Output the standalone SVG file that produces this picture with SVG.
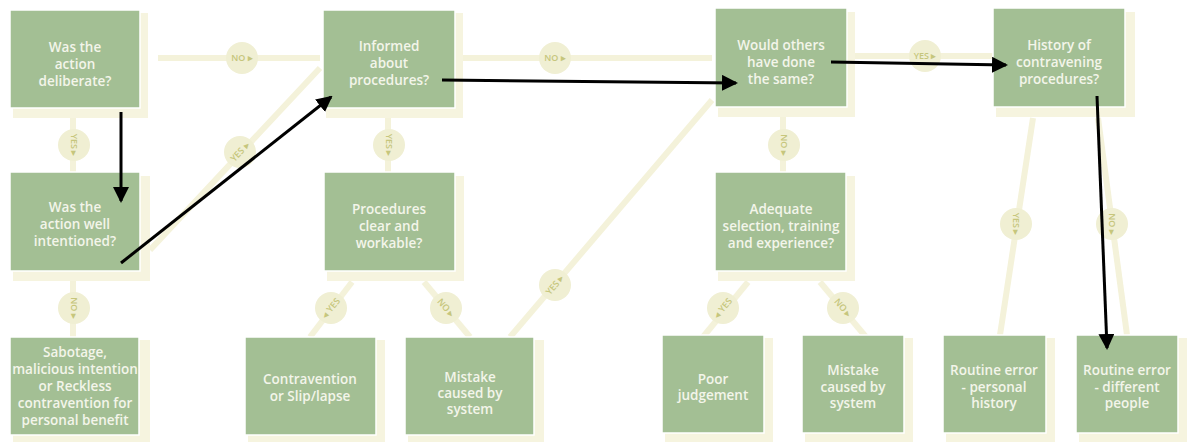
<svg xmlns="http://www.w3.org/2000/svg" width="1194" height="442" viewBox="0 0 1194 442">
<defs>
<style>
.shadow{fill:#f6f4df}
.box{fill:#a3bf94;stroke:#ffffff;stroke-width:1.5}
.bt{font-family:"Open Sans","Noto Sans",sans-serif;font-size:13.5px;font-weight:600;fill:#f3f5ea;text-anchor:middle}
.conn{stroke:#f4f2da;stroke-width:6;fill:none;stroke-linecap:butt}
.pill{fill:#f0efd3}
.pt{font-family:"Open Sans","Noto Sans",sans-serif;font-size:9px;font-weight:600;fill:#c6c67c;text-anchor:middle}
.arrow{stroke:#000;stroke-width:3;fill:none}
</style>
<marker id="ah" viewBox="0 0 16 16" refX="14" refY="8" markerWidth="16" markerHeight="16" markerUnits="userSpaceOnUse" orient="auto">
<path d="M0,0 L16,8 L0,16 z" fill="#000"/>
</marker>
</defs>
<rect width="1194" height="442" fill="#ffffff"/>

<g id="connectors">
<line class="conn" x1="158" y1="58" x2="320" y2="58"/>
<line class="conn" x1="463" y1="58" x2="712" y2="58"/>
<line class="conn" x1="855" y1="56" x2="994" y2="56"/>
<line class="conn" x1="73" y1="118" x2="73" y2="172"/>
<line class="conn" x1="150" y1="250" x2="320" y2="68"/>
<line class="conn" x1="73" y1="281" x2="73" y2="337"/>
<line class="conn" x1="388" y1="118" x2="388" y2="172"/>
<line class="conn" x1="352" y1="282" x2="310" y2="337"/>
<line class="conn" x1="424" y1="282" x2="470" y2="337"/>
<line class="conn" x1="510" y1="337" x2="712" y2="100"/>
<line class="conn" x1="783" y1="117" x2="783" y2="172"/>
<line class="conn" x1="748" y1="282" x2="703" y2="337"/>
<line class="conn" x1="820" y1="282" x2="866" y2="337"/>
<line class="conn" x1="1033" y1="118" x2="1000" y2="335"/>
<line class="conn" x1="1098" y1="118" x2="1127" y2="335"/>

<circle class="pill" cx="242" cy="58" r="16"/>
<text class="pt" x="242" y="61">NO ▸</text>
<circle class="pill" cx="555" cy="58" r="16"/>
<text class="pt" x="555" y="61">NO ▸</text>
<circle class="pill" cx="925" cy="56" r="16"/>
<text class="pt" x="925" y="59">YES ▸</text>
<circle class="pill" cx="74" cy="145" r="16"/>
<text class="pt" transform="translate(74,145) rotate(90)" x="0" y="3">YES ▸</text>
<circle class="pill" cx="240" cy="152" r="16"/>
<text class="pt" transform="translate(240,152) rotate(-47)" x="0" y="3">YES ▸</text>
<circle class="pill" cx="74" cy="308" r="16"/>
<text class="pt" transform="translate(74,308) rotate(90)" x="0" y="3">NO ▸</text>
<circle class="pill" cx="389" cy="145" r="16"/>
<text class="pt" transform="translate(389,145) rotate(90)" x="0" y="3">YES ▸</text>
<circle class="pill" cx="331" cy="308" r="16"/>
<text class="pt" transform="translate(331,308) rotate(-50)" x="0" y="3">◂ YES</text>
<circle class="pill" cx="446" cy="308" r="16"/>
<text class="pt" transform="translate(446,308) rotate(50)" x="0" y="3">NO ▸</text>
<circle class="pill" cx="555" cy="285" r="16"/>
<text class="pt" transform="translate(555,285) rotate(-50)" x="0" y="3">YES ▸</text>
<circle class="pill" cx="784" cy="145" r="16"/>
<text class="pt" transform="translate(784,145) rotate(90)" x="0" y="3">NO ▸</text>
<circle class="pill" cx="723" cy="308" r="16"/>
<text class="pt" transform="translate(723,308) rotate(-50)" x="0" y="3">◂ YES</text>
<circle class="pill" cx="843" cy="308" r="16"/>
<text class="pt" transform="translate(843,308) rotate(50)" x="0" y="3">NO ▸</text>
<circle class="pill" cx="1016" cy="224" r="16"/>
<text class="pt" transform="translate(1016,224) rotate(90)" x="0" y="3">YES ▸</text>
<circle class="pill" cx="1112" cy="224" r="16"/>
<text class="pt" transform="translate(1112,224) rotate(90)" x="0" y="3">NO ▸</text>
</g>

<g id="nodeA">
<rect class="shadow" x="13" y="13" width="135" height="105"/>
<rect class="box" x="10" y="10" width="130" height="98"/>
<text class="bt" x="75" y="52">Was the</text>
<text class="bt" x="75" y="69">action</text>
<text class="bt" x="75" y="86">deliberate?</text>
</g>
<g id="nodeB">
<rect class="shadow" x="326" y="13" width="137" height="105"/>
<rect class="box" x="323" y="10" width="132" height="98"/>
<text class="bt" x="389" y="51">Informed</text>
<text class="bt" x="389" y="68">about</text>
<text class="bt" x="389" y="85">procedures?</text>
</g>
<g id="nodeC">
<rect class="shadow" x="718" y="12" width="137" height="105"/>
<rect class="box" x="715" y="8" width="132" height="99"/>
<text class="bt" x="781" y="50">Would others</text>
<text class="bt" x="781" y="67">have done</text>
<text class="bt" x="781" y="84">the same?</text>
</g>
<g id="nodeD">
<rect class="shadow" x="996" y="12" width="139" height="105"/>
<rect class="box" x="993" y="8" width="132" height="99"/>
<text class="bt" x="1059" y="50">History of</text>
<text class="bt" x="1059" y="67">contravening</text>
<text class="bt" x="1059" y="84">procedures?</text>
</g>
<g id="nodeE">
<rect class="shadow" x="13" y="176" width="137" height="105"/>
<rect class="box" x="10" y="172" width="130" height="99"/>
<text class="bt" x="75" y="212">Was the</text>
<text class="bt" x="75" y="229">action well</text>
<text class="bt" x="75" y="246">intentioned?</text>
</g>
<g id="nodeF">
<rect class="shadow" x="327" y="176" width="137" height="105"/>
<rect class="box" x="324" y="172" width="131" height="99"/>
<text class="bt" x="389" y="214">Procedures</text>
<text class="bt" x="389" y="231">clear and</text>
<text class="bt" x="389" y="248">workable?</text>
</g>
<g id="nodeG">
<rect class="shadow" x="718" y="176" width="137" height="105"/>
<rect class="box" x="715" y="172" width="131" height="99"/>
<text class="bt" x="781" y="214">Adequate</text>
<text class="bt" x="781" y="231">selection, training</text>
<text class="bt" x="781" y="248">and experience?</text>
</g>
<g id="nodeH">
<rect class="shadow" x="13" y="340" width="137" height="104"/>
<rect class="box" x="10" y="337" width="129" height="98"/>
<text class="bt" x="75" y="357">Sabotage,</text>
<text class="bt" x="75" y="374">malicious intention</text>
<text class="bt" x="75" y="391">or Reckless</text>
<text class="bt" x="75" y="408">contravention for</text>
<text class="bt" x="75" y="425">personal benefit</text>
</g>
<g id="nodeI">
<rect class="shadow" x="248" y="340" width="137" height="104"/>
<rect class="box" x="245" y="337" width="131" height="98"/>
<text class="bt" x="310" y="384">Contravention</text>
<text class="bt" x="310" y="401">or Slip/lapse</text>
</g>
<g id="nodeJ">
<rect class="shadow" x="408" y="340" width="136" height="104"/>
<rect class="box" x="405" y="337" width="129" height="98"/>
<text class="bt" x="470" y="382">Mistake</text>
<text class="bt" x="470" y="398">caused by</text>
<text class="bt" x="470" y="414">system</text>
</g>
<g id="nodeK">
<rect class="shadow" x="665" y="338" width="108" height="104"/>
<rect class="box" x="662" y="335" width="102" height="98"/>
<text class="bt" x="713" y="384">Poor</text>
<text class="bt" x="713" y="400">judgement</text>
</g>
<g id="nodeL">
<rect class="shadow" x="805" y="338" width="108" height="104"/>
<rect class="box" x="802" y="335" width="102" height="98"/>
<text class="bt" x="853" y="375">Mistake</text>
<text class="bt" x="853" y="392">caused by</text>
<text class="bt" x="853" y="408">system</text>
</g>
<g id="nodeM">
<rect class="shadow" x="946" y="338" width="109" height="104"/>
<rect class="box" x="943" y="335" width="103" height="98"/>
<text class="bt" x="994" y="375">Routine error</text>
<text class="bt" x="994" y="392">- personal</text>
<text class="bt" x="994" y="408">history</text>
</g>
<g id="nodeN">
<rect class="shadow" x="1079" y="338" width="108" height="104"/>
<rect class="box" x="1076" y="335" width="102" height="98"/>
<text class="bt" x="1127" y="375">Routine error</text>
<text class="bt" x="1127" y="392">- different</text>
<text class="bt" x="1127" y="408">people</text>
</g>

<g id="black-arrows">
<line class="arrow" x1="121" y1="112" x2="121" y2="201" marker-end="url(#ah)"/>
<line class="arrow" x1="121" y1="263" x2="331" y2="97" marker-end="url(#ah)"/>
<line class="arrow" x1="442" y1="80" x2="736" y2="83" marker-end="url(#ah)"/>
<line class="arrow" x1="831" y1="62" x2="1006" y2="65" marker-end="url(#ah)"/>
<line class="arrow" x1="1097" y1="96" x2="1107" y2="348" marker-end="url(#ah)"/>
</g>
</svg>
